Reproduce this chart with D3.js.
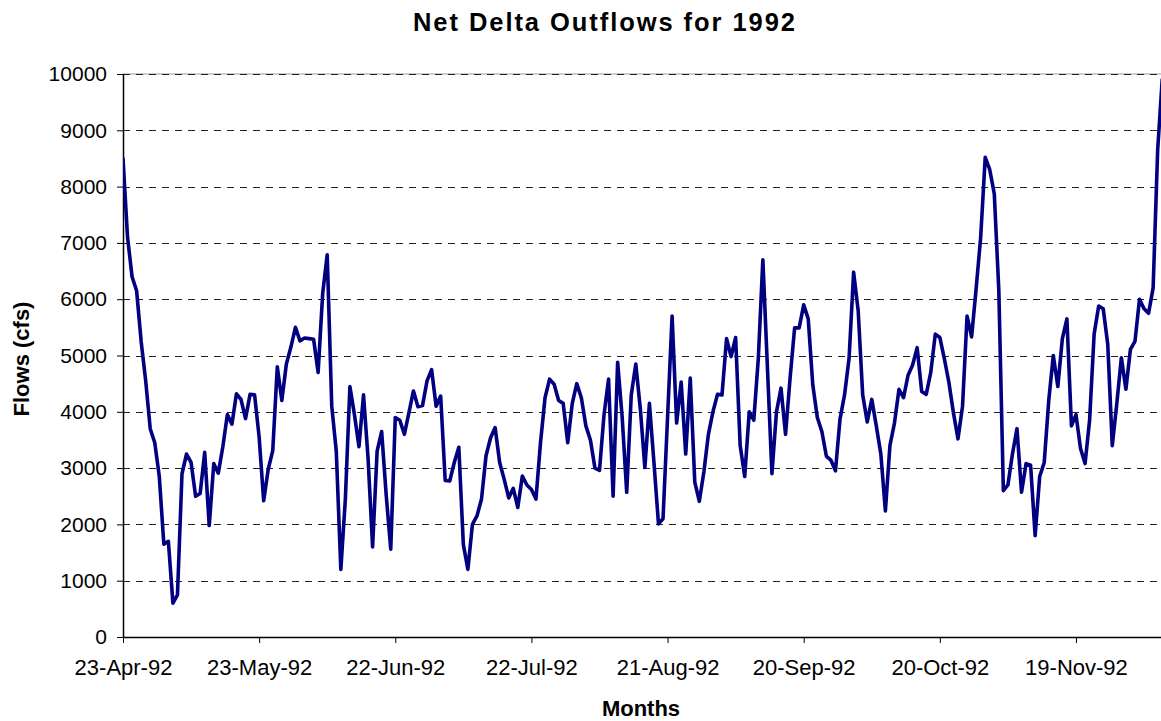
<!DOCTYPE html>
<html>
<head>
<meta charset="utf-8">
<script src="https://cdn.jsdelivr.net/npm/d3@7"></script>
<style>
  html, body { margin: 0; padding: 0; background: #ffffff; }
  svg { display: block; font-family: "Liberation Sans", Arial, sans-serif; }
</style>
</head>
<body>
<svg id="chart" width="1161" height="721"></svg>
<script>
// ---- data ----
const titleText = "Net Delta Outflows for 1992";
const xAxisTitle = "Months";
const yAxisTitle = "Flows (cfs)";
const startDate = "1992-04-23";
const tickEveryDays = 30;
const xTickLabels = ["23-Apr-92", "23-May-92", "22-Jun-92", "22-Jul-92", "21-Aug-92", "20-Sep-92", "20-Oct-92", "19-Nov-92"];
const yTickValues = [0, 1000, 2000, 3000, 4000, 5000, 6000, 7000, 8000, 9000, 10000];
// daily net delta outflow (cfs), 23-Apr-92 onward
const flows = [
  8500, 7100, 6400, 6150, 5250, 4550, 3700, 3450, 2850, 1650,
  1700, 600, 750, 2900, 3250, 3100, 2500, 2550, 3280, 1980,
  3080, 2910, 3380, 3950, 3780, 4320, 4220, 3880, 4310, 4300,
  3550, 2420, 2980, 3310, 4800, 4200, 4850, 5150, 5500, 5260,
  5310, 5300, 5290, 4700, 6100, 6790, 4100, 3300, 1200, 2450,
  4450, 3950, 3380, 4300, 3180, 1600, 3300, 3650, 2520, 1560,
  3900, 3850, 3600, 3980, 4370, 4090, 4110, 4550, 4750, 4100,
  4280, 2780, 2770, 3100, 3370, 1640, 1200, 2000, 2150, 2450,
  3220, 3540, 3720, 3100, 2800, 2470, 2640, 2300, 2860, 2700,
  2620, 2450, 3450, 4250, 4580, 4490, 4200, 4150, 3450, 4150,
  4500, 4250, 3750, 3500, 3000, 2960, 3950, 4580, 2500, 4880,
  3900, 2570, 4300, 4850, 4050, 3010, 4150, 3100, 2010, 2100,
  3900, 5700, 3800, 4530, 3250, 4600, 2750, 2410, 2930, 3600,
  4000, 4310, 4300, 5300, 4980, 5320, 3400, 2850, 4000, 3850,
  4950, 6700, 4800, 2900, 4000, 4420, 3600, 4600, 5490, 5490,
  5900, 5650, 4480, 3900, 3650, 3210, 3140, 2950, 3870, 4300,
  4950, 6480, 5800, 4300, 3820, 4220, 3750, 3250, 2240, 3400,
  3800, 4400, 4250, 4650, 4830, 5140, 4360, 4310, 4700, 5380,
  5320, 4940, 4520, 3980, 3520, 4100, 5700, 5330, 6190, 7100,
  8520, 8300, 7870, 6150, 2600, 2700, 3250, 3700, 2570, 3080,
  3050, 1800, 2850, 3100, 4200, 5000, 4450, 5300, 5650, 3750,
  3950, 3350, 3080, 3850, 5380, 5880, 5830, 5200, 3400, 4150,
  4960, 4400, 5110, 5250, 6000, 5830, 5750, 6200, 8650, 9900
];

(function draw() {
  const svg = d3.select("#chart");
  const W = 1161;
  const plotLeft = 123, plotTop = 74, plotBottom = 637;
  const pxPerDay = 4.538;

  const start = d3.utcParse("%Y-%m-%d")(startDate);
  const series = flows.map((v, i) => ({ date: d3.utcDay.offset(start, i), value: v }));
  const end = series[series.length - 1].date;
  const plotRight = plotLeft + pxPerDay * (series.length - 1);

  const x = d3.scaleUtc().domain([start, end]).range([plotLeft, plotRight]);
  const y = d3.scaleLinear().domain([0, 10000]).range([plotBottom, plotTop]);

  const xTickDates = xTickLabels.map((_, i) => d3.utcDay.offset(start, i * tickEveryDays));

  svg.append("defs").append("clipPath").attr("id", "plotclip")
    .append("rect").attr("x", plotLeft).attr("y", plotTop - 10)
    .attr("width", W - plotLeft).attr("height", plotBottom - plotTop + 20);

  // gridlines
  const grid = svg.append("g").attr("transform", `translate(${plotLeft},0)`);
  grid.append("line")
    .attr("x1", 0).attr("x2", W - plotLeft)
    .attr("y1", y(10000)).attr("y2", y(10000))
    .attr("stroke", "#9a9a9a").attr("stroke-width", 1.2);
  grid.call(d3.axisLeft(y).tickValues(yTickValues.filter(v => v > 0)).tickSize(-(W - plotLeft)).tickFormat(""))
    .call(g => g.select(".domain").remove())
    .call(g => g.selectAll(".tick line").attr("stroke", "#222").attr("stroke-width", 1)
      .attr("stroke-dasharray", "7,6").attr("shape-rendering", "crispEdges"));

  // y axis
  const yAxis = svg.append("g").attr("transform", `translate(${plotLeft},0)`)
    .call(d3.axisLeft(y).tickValues(yTickValues).tickSize(6).tickPadding(10).tickFormat(d3.format("d")));
  yAxis.select(".domain").attr("stroke", "#000").attr("stroke-width", 1.5).attr("d", `M0.5,${plotTop}V${plotBottom}`);
  yAxis.selectAll(".tick line").attr("stroke", "#000");
  yAxis.selectAll(".tick text").attr("font-size", 21).attr("fill", "#000")
    .attr("font-family", "'Liberation Sans', Arial, sans-serif");

  // x axis
  const xAxis = svg.append("g").attr("transform", `translate(0,${plotBottom})`)
    .call(d3.axisBottom(x).tickValues(xTickDates).tickSize(6).tickPadding(16)
      .tickFormat((d, i) => xTickLabels[i]));
  xAxis.select(".domain").attr("stroke", "#000").attr("stroke-width", 1.5).attr("d", `M${plotLeft},0.5H${W}`);
  xAxis.selectAll(".tick line").attr("stroke", "#000");
  xAxis.selectAll(".tick text").attr("font-size", 22).attr("fill", "#000")
    .attr("font-family", "'Liberation Sans', Arial, sans-serif");

  // line
  svg.append("path").datum(series)
    .attr("clip-path", "url(#plotclip)")
    .attr("fill", "none")
    .attr("stroke", "#000080")
    .attr("stroke-width", 3.6)
    .attr("stroke-linejoin", "round")
    .attr("stroke-linecap", "round")
    .attr("d", d3.line().x(d => x(d.date)).y(d => y(d.value)));

  // titles
  svg.append("text").attr("x", 604).attr("y", 31).attr("text-anchor", "middle")
    .attr("font-size", 25.5).attr("font-weight", "bold").attr("fill", "#000")
    .attr("textLength", 382).attr("lengthAdjust", "spacing")
    .text(titleText);
  svg.append("text").attr("x", 641).attr("y", 716).attr("text-anchor", "middle")
    .attr("font-size", 22).attr("font-weight", "bold").attr("fill", "#000")
    .text(xAxisTitle);
  svg.append("text").attr("transform", "translate(29,359) rotate(-90)").attr("text-anchor", "middle")
    .attr("font-size", 22).attr("font-weight", "bold").attr("fill", "#000")
    .text(yAxisTitle);
})();
</script>
</body>
</html>
